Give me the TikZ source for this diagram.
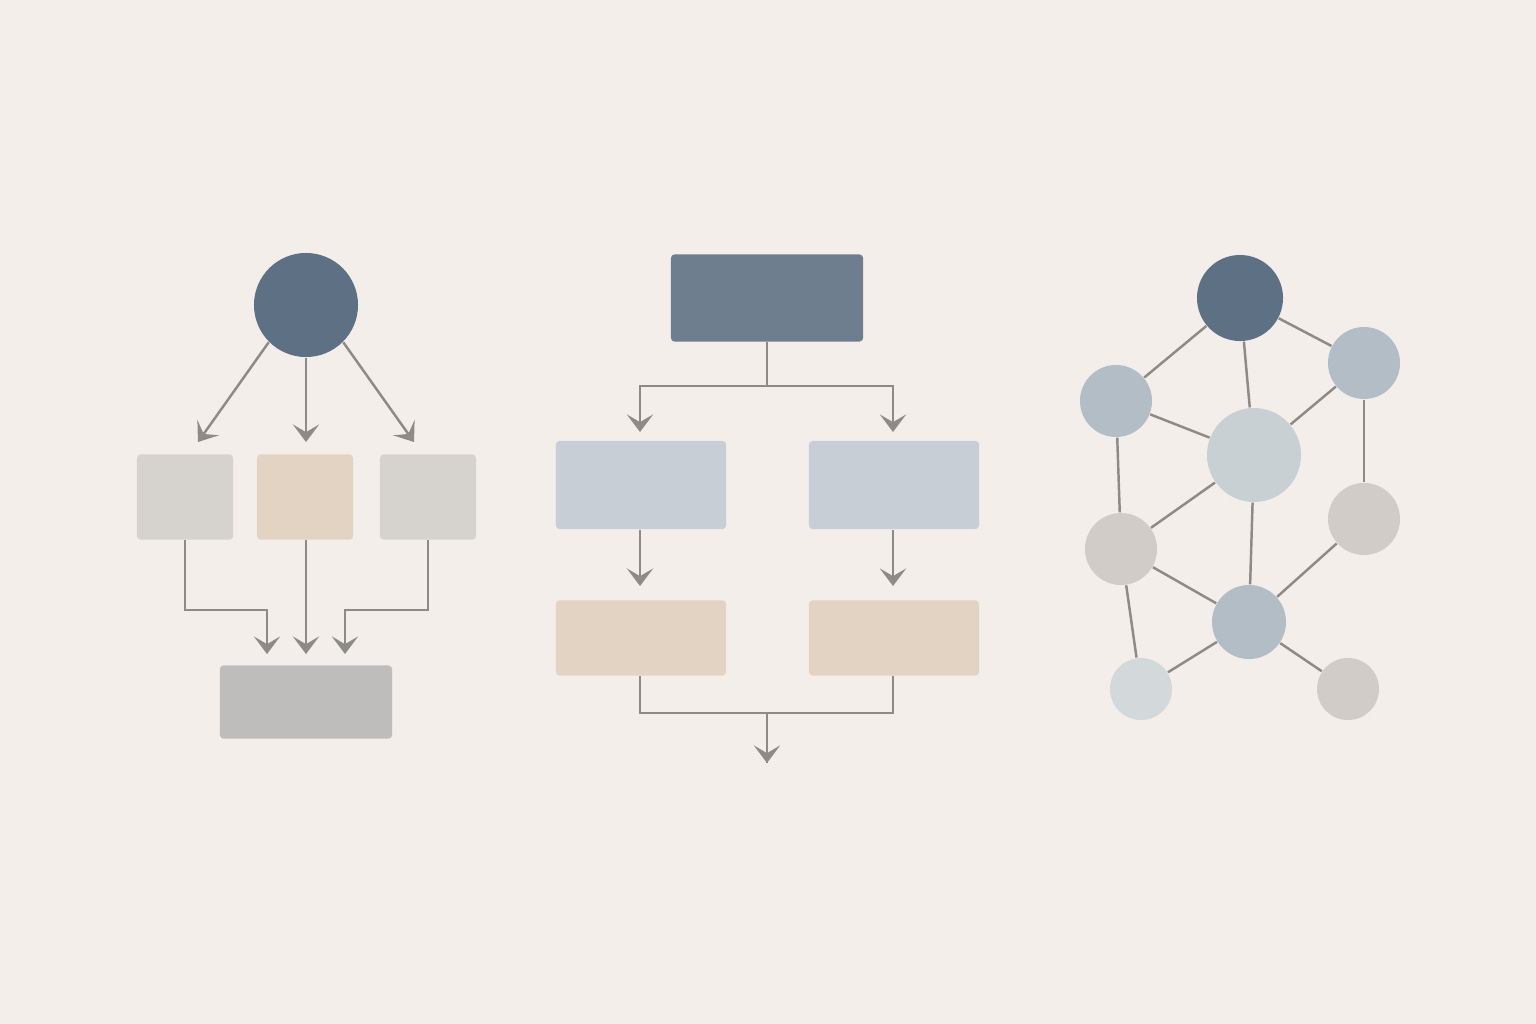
\documentclass[tikz,border=0pt]{standalone}
\usepackage{tikz}
\usetikzlibrary{arrows.meta,calc}
\definecolor{bgpaper}{HTML}{F3EEEA}
\definecolor{slate}{HTML}{5E7084}
\definecolor{slatebox}{HTML}{6F7E8F}
\definecolor{stone}{HTML}{D6D2CE}
\definecolor{sand}{HTML}{E2D3C2}
\definecolor{fog}{HTML}{C8CED6}
\definecolor{ash}{HTML}{BFBDBB}
\definecolor{steel}{HTML}{B3BDC6}
\definecolor{mist}{HTML}{C9D0D4}
\definecolor{pebble}{HTML}{D1CCC7}
\definecolor{haze}{HTML}{D3D8DB}
\definecolor{wire}{HTML}{8E8A86}

\begin{document}
\begin{tikzpicture}[x=0.01cm,y=-0.01cm,
  box/.style={rectangle,rounded corners=1pt,inner sep=0pt},
  dot/.style={circle,inner sep=0pt},
  line/.style={draw=wire,line width=0.7pt},
  arr/.style={line,-{Stealth[length=5pt,width=7.5pt,inset=2.2pt]}}]
\fill[bgpaper] (0,0) rectangle (1536,1024);

% left: one to three to one
\node[dot,fill=slate,minimum size=1.04cm] (lc) at (306,305) {};
\node[box,fill=stone,minimum width=0.96cm,minimum height=0.85cm] (l1) at (185,497) {};
\node[box,fill=sand,minimum width=0.96cm,minimum height=0.85cm] (l2) at (305,497) {};
\node[box,fill=stone,minimum width=0.96cm,minimum height=0.85cm] (l3) at (428,497) {};
\node[box,fill=ash,minimum width=1.72cm,minimum height=0.73cm] (lb) at (306,702) {};
\coordinate (la) at (198,442);
\coordinate (lm) at (306,442);
\coordinate (lr) at (414,442);
\coordinate (t1) at (267,654);
\coordinate (t2) at (306,654);
\coordinate (t3) at (345,654);
\draw[arr] (lc.225) -- (la);
\draw[arr] (lc.south) -- (lm);
\draw[arr] (lc.315) -- (lr);
\draw[arr] (l1.south) -- ++(0,70) -| (t1);
\draw[arr] (l2.south -| t2) -- (t2);
\draw[arr] (l3.south) -- ++(0,70) -| (t3);

% middle: tree of boxes
\node[box,fill=slatebox,minimum width=1.92cm,minimum height=0.87cm] (mt) at (767,298) {};
\node[box,fill=fog,minimum width=1.70cm,minimum height=0.88cm] (m1) at (641,485) {};
\node[box,fill=fog,minimum width=1.70cm,minimum height=0.88cm] (m2) at (894,485) {};
\node[box,fill=sand,minimum width=1.70cm,minimum height=0.75cm] (m3) at (641,638) {};
\node[box,fill=sand,minimum width=1.70cm,minimum height=0.75cm] (m4) at (894,638) {};
\coordinate (ma) at (640,432);
\coordinate (mb) at (893,432);
\coordinate (mc) at (640,586);
\coordinate (md) at (893,586);
\coordinate (me) at (767,763);
\draw[arr] (mt.south) -- ++(0,44) -| (ma);
\draw[arr] (mt.south) -- ++(0,44) -| (mb);
\draw[arr] (m1.south -| mc) -- (mc);
\draw[arr] (m2.south -| md) -- (md);
\draw[line] (m3.south -| mc) -- ++(0,37) -| (me);
\draw[arr] (m4.south -| md) -- ++(0,37) -| (me);

% right: network
\node[dot,fill=slate,minimum size=0.86cm] (na) at (1240,298) {};
\node[dot,fill=steel,minimum size=0.72cm] (nb) at (1364,363) {};
\node[dot,fill=steel,minimum size=0.72cm] (nc) at (1116,401) {};
\node[dot,fill=mist,minimum size=0.94cm] (nd) at (1254,455) {};
\node[dot,fill=pebble,minimum size=0.72cm] (ne) at (1364,519) {};
\node[dot,fill=pebble,minimum size=0.72cm] (nf) at (1121,549) {};
\node[dot,fill=steel,minimum size=0.74cm] (ng) at (1249,622) {};
\node[dot,fill=haze,minimum size=0.62cm] (nh) at (1141,689) {};
\node[dot,fill=pebble,minimum size=0.62cm] (ni) at (1348,689) {};
\foreach \p/\q in {na/nc,na/nb,na/nd,nb/nd,nb/ne,nc/nd,nc/nf,nd/nf,nd/ng,ne/ng,nf/ng,nf/nh,nh/ng,ng/ni}
  \draw[line] (\p) -- (\q);
\end{tikzpicture}
\end{document}
